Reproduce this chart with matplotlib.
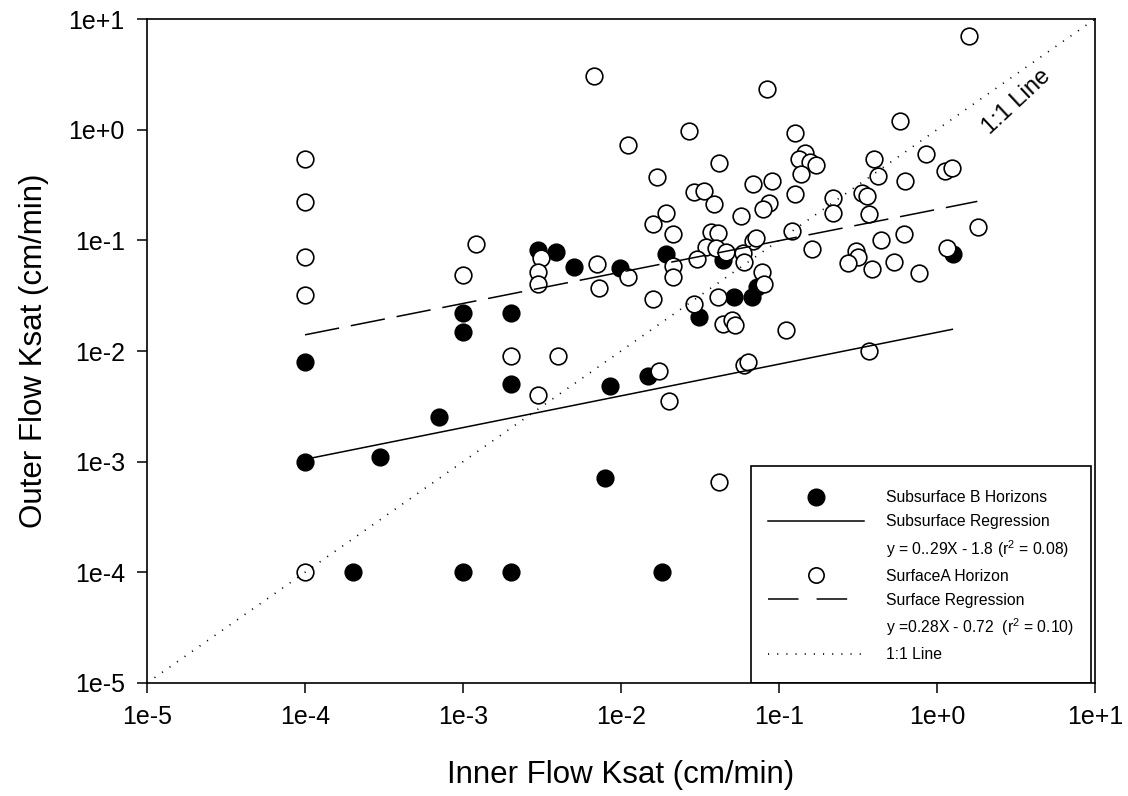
import matplotlib
matplotlib.use("Agg")
import matplotlib.pyplot as plt
from matplotlib.lines import Line2D
from matplotlib.patches import Rectangle

plt.rcParams["font.family"] = ["Liberation Sans", "DejaVu Sans"]
plt.rcParams["mathtext.fontset"] = "custom"
plt.rcParams["mathtext.rm"] = "Liberation Sans"
plt.rcParams["mathtext.it"] = "Liberation Sans:italic"
plt.rcParams["lines.scale_dashes"] = False

# Surface A horizons (open circles)
surf_x = [1e-4, 1e-4, 1e-4, 1e-4, 0.0067, 0.00121, 0.001, 0.00312, 0.003, 0.003, 0.0070, 0.0073,
          1.6, 0.0836, 0.0269, 0.011, 0.126, 0.583, 0.0419, 0.017, 0.146, 0.134, 0.157, 0.171,
          0.138, 0.40, 0.851, 1.13, 1.25, 0.425, 0.63, 0.0687, 0.0897, 0.0291, 0.0335, 0.0389,
          0.126, 0.221, 0.337, 0.359, 0.0869, 0.0796, 0.0192, 0.016, 0.0212, 0.0573, 0.221, 0.369,
          0.0371, 0.0413, 0.121, 0.068, 0.072, 0.0345, 0.040, 0.046, 0.0594, 0.060, 0.0301, 0.161,
          0.443, 0.62, 1.81, 1.15, 0.307, 0.315, 0.272, 0.386, 0.537, 0.773, 0.0212, 0.0212,
          0.0111, 0.0777, 0.0804, 0.016, 0.029, 0.041, 0.0445, 0.0501, 0.0527, 0.110,
          1e-4, 0.002, 0.004, 0.003, 0.0173, 0.0201, 0.060, 0.0633, 0.372, 0.0419]
surf_y = [0.54, 0.22, 0.071, 0.032, 3.07, 0.092, 0.049, 0.069, 0.052, 0.040, 0.061, 0.037,
          7.07, 2.35, 0.98, 0.733, 0.93, 1.21, 0.497, 0.377, 0.62, 0.54, 0.514, 0.48,
          0.395, 0.543, 0.60, 0.424, 0.448, 0.385, 0.346, 0.321, 0.346, 0.272, 0.281, 0.212,
          0.261, 0.243, 0.27, 0.252, 0.216, 0.192, 0.176, 0.14, 0.1135, 0.167, 0.176, 0.172,
          0.12, 0.117, 0.122, 0.099, 0.104, 0.0877, 0.0859, 0.079, 0.0764, 0.0633, 0.068, 0.0836,
          0.101, 0.1135, 0.131, 0.085, 0.0807, 0.0703, 0.062, 0.0552, 0.0642, 0.0505, 0.059, 0.047,
          0.047, 0.052, 0.0404, 0.0294, 0.0266, 0.0306, 0.0176, 0.0191, 0.017, 0.0155,
          1e-4, 0.0091, 0.0091, 0.004, 0.0066, 0.00354, 0.0075, 0.0079, 0.01, 0.00066]

# Subsurface B horizons (filled circles)
sub_x = [0.003, 0.0039, 0.00505, 0.0099, 0.001, 0.001, 0.002, 0.0192, 0.0445, 0.073, 0.052, 0.067,
         0.0312, 1.27, 1e-4, 1e-4, 0.0003, 0.0007, 0.002, 0.0085, 0.0079, 0.0002, 0.001, 0.002,
         0.0149, 0.0181]
sub_y = [0.081, 0.0785, 0.0575, 0.056, 0.022, 0.015, 0.022, 0.0748, 0.0665, 0.0382, 0.0306, 0.0306,
         0.0202, 0.0748, 0.008, 0.001, 0.00111, 0.00252, 0.005, 0.00484, 0.00071, 1e-4, 1e-4, 1e-4,
         0.006, 1e-4]

# regression line end points
sub_reg_x = [1e-4, 1.25]
sub_reg_y = [0.00105, 0.0157]
surf_reg_x = [1e-4, 1.8]
surf_reg_y = [0.014, 0.225]
one_x = [1e-5, 10]
one_y = [1e-5, 10]

ticks = [1e-5, 1e-4, 1e-3, 1e-2, 1e-1, 1e0, 1e1]
tick_labels = ["1e-5", "1e-4", "1e-3", "1e-2", "1e-1", "1e+0", "1e+1"]

fig = plt.figure(figsize=(11.28, 7.96), dpi=100)
ax = fig.add_axes([147 / 1128, 113 / 796, 948 / 1128, 664 / 796])

ax.plot(sub_x, sub_y, "o", ms=12, mfc="black", mec="black", mew=1.1, ls="none", zorder=2)
ax.plot(surf_x, surf_y, "o", ms=12, mfc="white", mec="black", mew=1.2, ls="none", zorder=3)
ax.plot(sub_reg_x, sub_reg_y, color="black", lw=1.1, zorder=4)
ax.plot(surf_reg_x, surf_reg_y, color="black", lw=1.1, dashes=(25, 8.6), zorder=4)
ax.plot(one_x, one_y, color="black", lw=1.2, dashes=(0.8, 5.8), zorder=4)

ax.set_xscale("log")
ax.set_yscale("log")
ax.set_xlim(1e-5, 10)
ax.set_ylim(1e-5, 10)
ax.set_xticks(ticks)
ax.set_xticklabels(tick_labels)
ax.set_yticks(ticks)
ax.set_yticklabels(tick_labels)
ax.minorticks_off()
ax.tick_params(direction="out", length=7, width=1.1, labelsize=18, pad=9)
for s in ax.spines.values():
    s.set_linewidth(1.2)

ax.set_xlabel("Inner Flow Ksat (cm/min)", fontsize=22.5, labelpad=22)
ax.set_ylabel("Outer Flow Ksat (cm/min)", fontsize=22.5, labelpad=14)

ax.text(3.2, 1.78, "1:1 Line", fontsize=17, rotation=43, ha="center", va="center")

blank = Line2D([], [], ls="none")
handles = [
    Line2D([], [], marker="o", ms=12, mfc="black", mec="black", ls="none"),
    Line2D([], [], color="black", lw=1.1),
    blank,
    Line2D([], [], marker="o", ms=11, mfc="white", mec="black", mew=1.2, ls="none"),
    Line2D([], [], color="black", lw=1.1, dashes=(22, 13)),
    blank,
    Line2D([], [], color="black", lw=1.2, dashes=(0.8, 5.8)),
]
labels = [
    "Subsurface B Horizons",
    "Subsurface Regression",
    "y = 0..29X - 1.8 (r$^2$ = 0.08)",
    "SurfaceA Horizon",
    "Surface Regression",
    "y =0.28X - 0.72  (r$^2$ = 0.10)",
    "1:1 Line",
]
ax.legend(handles, labels, loc="upper left", bbox_to_anchor=(0.655, 0.290), frameon=False,
          fontsize=11.3, handlelength=6.1, handletextpad=1.4, labelspacing=0.565,
          borderpad=0, borderaxespad=0)
ax.add_patch(Rectangle((0.637, 0.0), 0.359, 0.327, transform=ax.transAxes, fill=False,
                       ec="black", lw=1.2, zorder=5))

fig.savefig("out.png", dpi=100)
